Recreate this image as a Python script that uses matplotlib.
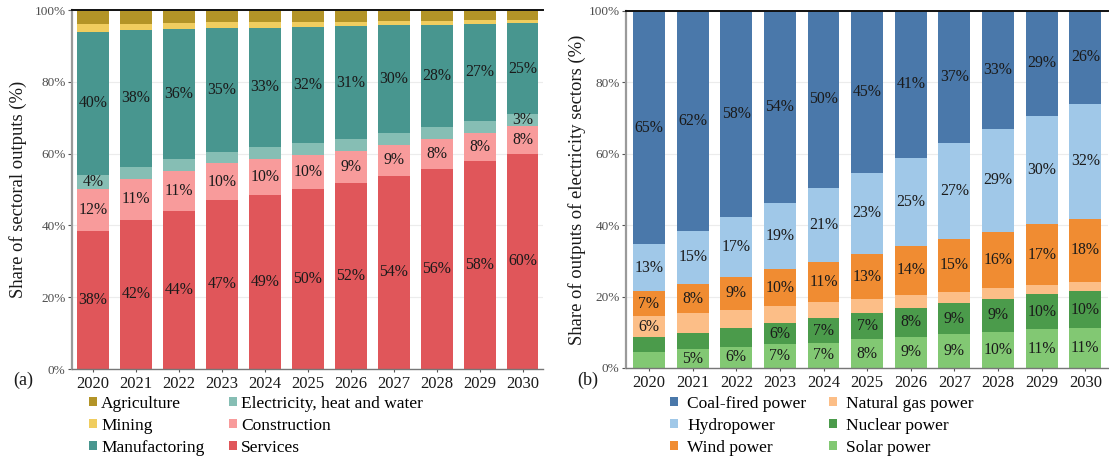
import matplotlib
matplotlib.use("Agg")
import matplotlib.pyplot as plt
from matplotlib.patches import Patch
import numpy as np

plt.rcParams['font.family'] = ['Liberation Serif', 'DejaVu Serif']

years = [str(y) for y in range(2020, 2031)]

# (a) sectoral output shares, %
services      = [38.4, 41.6, 44.1, 47.1, 48.6, 50.1, 51.9, 53.8, 55.6, 57.9, 60.0]
construction  = [11.7, 11.3, 11.0, 10.2, 9.8, 9.6, 8.9, 8.6, 8.4, 7.8, 7.6]
electricity   = [3.9, 3.4, 3.3, 3.1, 3.4, 3.2, 3.3, 3.3, 3.3, 3.4, 3.4]
manufacturing = [40.0, 38.1, 36.3, 34.6, 33.3, 32.3, 31.4, 30.1, 28.4, 27.0, 25.3]
mining        = [2.1, 1.7, 1.6, 1.7, 1.6, 1.4, 1.1, 1.2, 1.3, 1.1, 1.0]
agriculture   = [3.9, 3.9, 3.7, 3.3, 3.3, 3.4, 3.4, 3.0, 3.0, 2.8, 2.7]

# (b) electricity generation shares, %
solar   = [4.6, 5.3, 5.9, 6.6, 7.0, 8.1, 8.8, 9.4, 10.1, 10.8, 11.1]
nuclear = [4.1, 4.6, 5.2, 6.1, 6.9, 7.2, 8.0, 8.7, 9.2, 9.8, 10.4]
gas     = [5.8, 5.4, 5.1, 4.7, 4.5, 4.0, 3.7, 3.2, 3.0, 2.6, 2.6]
wind    = [7.1, 8.2, 9.4, 10.2, 11.2, 12.6, 13.6, 14.8, 15.8, 17.0, 17.7]
hydro   = [13.0, 14.9, 16.6, 18.7, 20.8, 22.8, 24.8, 26.9, 28.8, 30.4, 32.2]
coal    = [65.4, 61.6, 57.8, 53.7, 49.6, 45.3, 41.1, 37.0, 33.1, 29.4, 26.0]

# which segments carry a value label
ALL = [True] * 11
NONE = [False] * 11
elec_shown = [True] + [False] * 9 + [True]
gas_shown = [True] + [False] * 10
nuclear_shown = [False] * 3 + [True] * 8
solar_shown = [False] + [True] * 10

# stacks listed bottom -> top: (name, values, colour, labelled)
stack_a = [
    ("Services", services, "#E0565A", ALL),
    ("Construction", construction, "#F89B9B", ALL),
    ("Electricity, heat and water", electricity, "#86BEB4", elec_shown),
    ("Manufactoring", manufacturing, "#48968F", ALL),
    ("Mining", mining, "#F0CD5F", NONE),
    ("Agriculture", agriculture, "#B39427", NONE),
]
stack_b = [
    ("Solar power", solar, "#82C873", solar_shown),
    ("Nuclear power", nuclear, "#4B9B4B", nuclear_shown),
    ("Natural gas power", gas, "#FCBE87", gas_shown),
    ("Wind power", wind, "#F08C32", ALL),
    ("Hydropower", hydro, "#A0C8E8", ALL),
    ("Coal-fired power", coal, "#4A78AA", ALL),
]

legend_a = ["Agriculture", "Mining", "Manufactoring",
            "Electricity, heat and water", "Construction", "Services"]
legend_b = ["Coal-fired power", "Hydropower", "Wind power",
            "Natural gas power", "Nuclear power", "Solar power"]

W, H = 1109, 459
fig = plt.figure(figsize=(W / 100, H / 100), dpi=100)

ax_a = fig.add_axes([72 / W, 1 - 369 / H, 471 / W, 359 / H])
ax_b = fig.add_axes([626 / W, 1 - 368 / H, 482 / W, 357.3 / H])

BAR_W = 0.73
x = np.arange(len(years))


def draw_stack(ax, stack):
    bottom = np.zeros(len(years))
    handles = {}
    for name, vals, color, shown in stack:
        vals = np.asarray(vals, dtype=float)
        ax.bar(x, vals, BAR_W, bottom=bottom, color=color,
               edgecolor='none', zorder=2)
        handles[name] = Patch(facecolor=color, edgecolor='none')
        for xi, b, v, s in zip(x, bottom, vals, shown):
            if s:
                ax.text(xi, b + v / 2, f"{v:.0f}%", ha='center', va='center',
                        fontsize=11.3, color='#1a1a1a', zorder=3)
        bottom = bottom + vals
    return handles


def style_axes(ax, xlim, ylabel, label_x):
    ax.set_xlim(*xlim)
    ax.set_ylim(0, 100)
    ax.set_yticks(range(0, 101, 20))
    ax.set_yticklabels([f"{t}%" for t in range(0, 101, 20)])
    ax.set_xticks(x)
    ax.set_xticklabels(years)
    ax.tick_params(axis='y', length=3, width=0.8, color='#555555',
                   labelsize=9.5, labelcolor='#4d4d4d', pad=1.5)
    ax.tick_params(axis='x', length=2, width=0.8, color='#555555',
                   labelsize=12, labelcolor='#1a1a1a', pad=3)
    ax.yaxis.grid(True, color='#ececec', linewidth=0.8, zorder=0)
    ax.set_axisbelow(True)
    ax.spines['right'].set_visible(False)
    ax.spines['top'].set_color('#111111')
    ax.spines['top'].set_linewidth(1.4)
    ax.spines['left'].set_color('#9a9a9a')
    ax.spines['left'].set_linewidth(1.6)
    ax.spines['bottom'].set_color('#777777')
    ax.spines['bottom'].set_linewidth(1.0)
    ax.set_ylabel(ylabel, fontsize=13.4, color='#1a1a1a')
    ax.yaxis.set_label_coords(label_x, 0.5)


handles_a = draw_stack(ax_a, stack_a)
handles_b = draw_stack(ax_b, stack_b)

style_axes(ax_a, (-0.49, 10.47), "Share of sectoral outputs (%)", -0.095)
style_axes(ax_b, (-0.527, 10.52), "Share of outputs of electricity sectors (%)", -0.082)

leg_a = fig.legend([handles_a[n] for n in legend_a], legend_a, ncol=2,
                   loc='upper left', bbox_to_anchor=(89 / W, 1 - 396 / H),
                   frameon=False, fontsize=12.5, handlelength=0.45,
                   handleheight=0.45, handletextpad=0.25, labelspacing=0.34,
                   columnspacing=1.4, borderpad=0, borderaxespad=0)
leg_b = fig.legend([handles_b[n] for n in legend_b], legend_b, ncol=2,
                   loc='upper left', bbox_to_anchor=(670 / W, 1 - 396 / H),
                   frameon=False, fontsize=12.5, handlelength=0.45,
                   handleheight=0.45, handletextpad=0.55, labelspacing=0.34,
                   columnspacing=1.3, borderpad=0, borderaxespad=0)

fig.text(23 / W, 1 - 380 / H, "(a)", ha='center', va='center', fontsize=13,
         color='#1a1a1a')
fig.text(588 / W, 1 - 380 / H, "(b)", ha='center', va='center', fontsize=13,
         color='#1a1a1a')

fig.savefig("out.png", dpi=100)
